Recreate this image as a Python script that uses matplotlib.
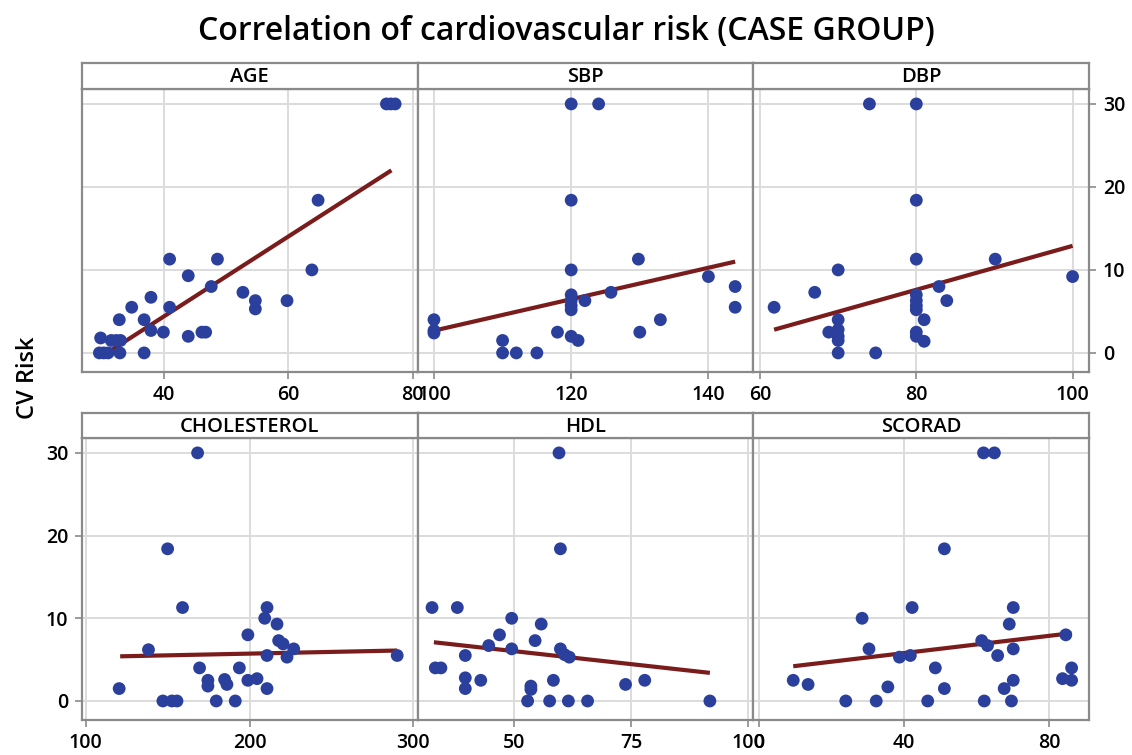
import matplotlib
matplotlib.use("Agg")
import matplotlib.pyplot as plt
import numpy as np

plt.rcParams['font.family'] = ['Open Sans', 'DejaVu Sans']
plt.rcParams['font.weight'] = 'semibold'

# ---------------- data ----------------
age_x = [75.8, 76.5, 77.2, 64.8, 40.9, 48.6, 43.9, 63.8, 47.6, 37.9, 52.7, 54.7, 54.7, 59.8,
         34.8, 40.9, 32.8, 36.8, 37.9, 39.9, 43.9, 46.1, 46.7, 29.8, 31.5, 32.3, 33.0,
         29.6, 30.3, 31.0, 32.9, 36.8]
age_y = [30, 30, 30, 18.4, 11.3, 11.3, 9.3, 10.0, 8.0, 6.7, 7.3, 6.3, 5.3, 6.3,
         5.5, 5.5, 4.0, 4.0, 2.7, 2.5, 2.0, 2.5, 2.5, 1.8, 1.5, 1.5, 1.5,
         0, 0, 0, 0, 0]
age_fit = ([30.0, 76.6], [-0.4, 22.0])

sbp_x = [120, 124, 120, 120, 129.8, 140, 143.9, 143.9, 125.8, 122, 120, 120, 120, 120,
         100, 100, 100, 133, 130, 118, 120, 121, 110, 110, 112, 115]
sbp_y = [30, 30, 18.4, 10.0, 11.3, 9.2, 8.0, 5.5, 7.3, 6.3, 7.0, 6.3, 5.7, 5.2,
         4.0, 2.7, 2.4, 4.0, 2.5, 2.5, 2.0, 1.5, 1.5, 0, 0, 0]
sbp_fit = ([100.1, 143.9], [2.7, 11.0])

dbp_x = [74, 80, 80, 80, 90.1, 100, 70, 67, 61.8, 82.9, 83.9, 80, 80, 80, 80,
         81, 70, 68.8, 70, 70, 70, 80, 80, 81, 70, 74.8]
dbp_y = [30, 30, 18.4, 11.3, 11.3, 9.2, 10.0, 7.3, 5.5, 8.0, 6.3, 7.0, 6.3, 5.7, 5.2,
         4.0, 4.0, 2.5, 2.8, 2.0, 1.5, 2.5, 2.0, 1.4, 0, 0]
dbp_fit = ([61.8, 100.0], [2.8, 12.9])

chol_x = [168.3, 150, 159.1, 138.3, 120.4, 147.1, 152.6, 155.7, 169.5, 174.6, 174.6, 179.7,
          184.8, 186.2, 191.3, 193.8, 199, 199, 204.6, 209.3, 210.7, 210.7, 210.7, 216.8,
          217.8, 220.5, 222.9, 227, 290.2]
chol_y = [30, 18.4, 11.3, 6.2, 1.5, 0, 0, 0, 4.0, 2.5, 1.8, 0,
          2.6, 2.0, 0, 4.0, 8.0, 2.5, 2.7, 10.0, 11.3, 5.5, 1.5, 9.3,
          7.3, 6.9, 5.3, 6.3, 5.5]
chol_fit = ([121.0, 290.2], [5.4, 6.1])

hdl_x = [59.6, 59.9, 32.5, 37.9, 49.5, 55.8, 46.9, 54.5, 44.6, 49.5, 59.9, 60.8, 61.8,
         39.6, 33.2, 34.4, 39.6, 39.6, 42.9, 53.6, 53.6, 58.4, 73.8, 77.9,
         52.9, 57.6, 61.6, 65.7, 91.8]
hdl_y = [30, 18.4, 11.3, 11.3, 10.0, 9.3, 8.0, 7.3, 6.7, 6.3, 6.3, 5.6, 5.3,
         5.5, 4.0, 4.0, 2.8, 1.5, 2.5, 1.8, 1.4, 2.5, 2.0, 2.5,
         0, 0, 0, 0, 0]
hdl_fit = ([32.9, 91.8], [7.1, 3.4])

scorad_x = [61.9, 64.9, 51.1, 42.2, 70.1, 28.4, 69.0, 84.6, 61.4, 63.0, 70.1, 30.3,
            38.7, 41.7, 65.8, 48.6, 86.2, 9.4, 13.5, 35.5, 51.1, 67.6, 70.1, 83.7, 86.2,
            23.9, 32.3, 46.5, 62.1, 69.6]
scorad_y = [30, 30, 18.4, 11.3, 11.3, 10.0, 9.3, 8.0, 7.3, 6.7, 6.3, 6.3,
            5.3, 5.5, 5.5, 4.0, 4.0, 2.5, 2.0, 1.7, 1.5, 1.5, 2.5, 2.7, 2.5,
            0, 0, 0, 0, 0]
scorad_fit = ([9.4, 86.2], [4.2, 8.2])

panel_titles = ["AGE", "SBP", "DBP", "CHOLESTEROL", "HDL", "SCORAD"]
panel_x = [age_x, sbp_x, dbp_x, chol_x, hdl_x, scorad_x]
panel_y = [age_y, sbp_y, dbp_y, chol_y, hdl_y, scorad_y]
panel_fit = [age_fit, sbp_fit, dbp_fit, chol_fit, hdl_fit, scorad_fit]
panel_xticks = [[40, 60, 80], [100, 120, 140], [60, 80, 100],
                [100, 200, 300], [50, 75, 100], [0, 40, 80]]
panel_xlim = [(26.8, 80.8), (97.6, 146.5), (59.1, 102.1),
              (97.7, 302.6), (29.4, 101.0), (-1.7, 91.0)]
y_ticks = [0, 10, 20, 30]
y_lim = (-2.3, 31.8)

title = "Correlation of cardiovascular risk (CASE GROUP)"
y_label = "CV Risk"

# ---------------- styling ----------------
W, H = 1132, 755
fig = plt.figure(figsize=(W / 100, H / 100), dpi=100)
border = "#8a8a8a"
grid_c = "#dcdcdc"
pt_c = "#2b409c"
ln_c = "#7b1c1c"

col_px = [(82, 417.5), (417.5, 753), (753, 1089)]
row_px = [(89, 372, 63), (438, 720, 413)]  # (plot top, plot bottom, header top)

for i in range(6):
    r, c = divmod(i, 3)
    x0, x1 = col_px[c]
    ptop, pbot, htop = row_px[r]
    ax = fig.add_axes([x0 / W, (H - pbot) / H, (x1 - x0) / W, (pbot - ptop) / H])
    hx = fig.add_axes([x0 / W, (H - ptop) / H, (x1 - x0) / W, (ptop - htop) / H])
    hx.set_xticks([]); hx.set_yticks([])
    for s in hx.spines.values():
        s.set_color(border); s.set_linewidth(1.6)
    hx.text(0.5, 0.45, panel_titles[i], ha="center", va="center", fontsize=14.5,
            transform=hx.transAxes)

    ax.set_xlim(*panel_xlim[i])
    ax.set_ylim(*y_lim)
    ax.set_xticks(panel_xticks[i])
    ax.set_yticks(y_ticks)
    ax.grid(True, color=grid_c, linewidth=1.4)
    ax.set_axisbelow(True)
    for s in ax.spines.values():
        s.set_color(border); s.set_linewidth(1.6)
    ax.tick_params(axis="x", direction="out", length=5, color=border, width=1.2,
                   labelsize=14, pad=4)
    ax.tick_params(axis="y", direction="out", length=5, color=border, width=1.2,
                   labelsize=14, pad=5)
    if r == 0 and c == 2:
        ax.yaxis.tick_right()
        ax.tick_params(axis="y", left=False, right=True, labelright=True, labelleft=False)
    elif r == 1 and c == 0:
        ax.tick_params(axis="y", left=True, labelleft=True)
    else:
        ax.tick_params(axis="y", left=False, right=False, labelleft=False, labelright=False)

    ax.scatter(panel_x[i], panel_y[i], s=85, color=pt_c, edgecolors="none", zorder=3)
    fx, fy = panel_fit[i]
    ax.plot(fx, fy, color=ln_c, linewidth=3.0, zorder=2, solid_capstyle="butt")

fig.text(566 / W, 1 - 31 / H, title, ha="center", va="center", fontsize=23)
fig.text(28 / W, 1 - 378 / H, y_label, ha="center", va="center", fontsize=17,
         rotation=90)

fig.savefig("out.png", dpi=100)
